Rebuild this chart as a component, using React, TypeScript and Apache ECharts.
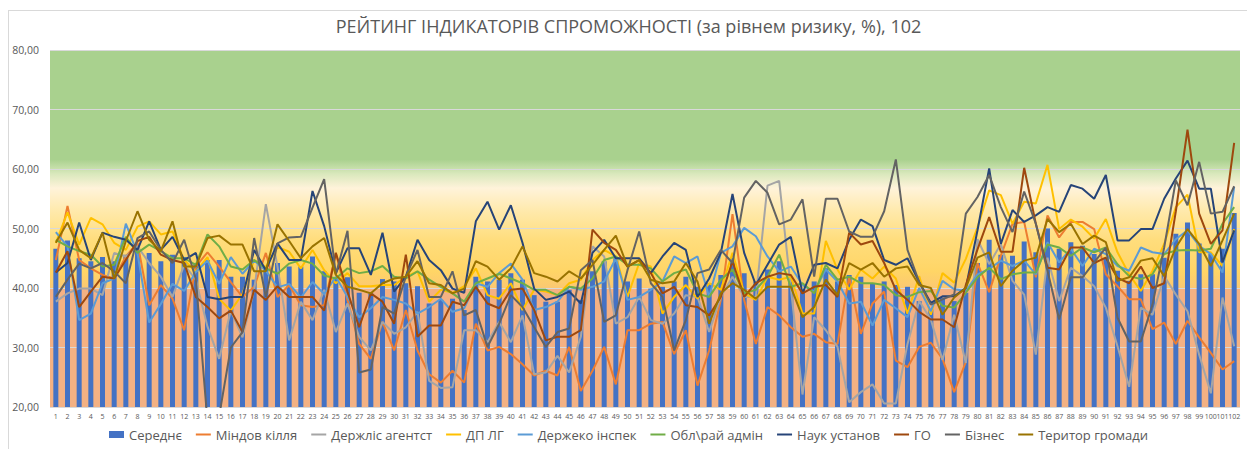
import React, { useEffect, useRef } from "react";
import * as echarts from "echarts";

const categories: string[] = Array.from({ length: 102 }, (_, i) => String(i + 1));

const seredne = [
  46.6, 48.0, 45.0, 44.5, 45.2, 44.5, 45.6, 46.2, 45.9, 44.5, 45.6, 45.2, 44.2, 44.7, 44.7, 41.9, 41.9, 41.4, 43.3, 44.2, 43.6, 43.6, 45.3, 42.8, 41.6,
  41.8, 39.2, 39.1, 41.5, 41.1, 40.8, 40.3, 37.4, 38.0, 38.2, 36.3, 41.9, 41.1, 41.4, 42.5, 41.4, 38.8, 37.7, 37.7, 39.7, 38.0, 42.8, 44.5, 45.0, 41.1,
  41.6, 39.9, 40.2, 41.1, 41.9, 40.2, 40.8, 42.2, 45.0, 42.5, 41.1, 43.1, 44.5, 41.1, 39.7, 41.1, 43.3, 41.1, 42.2, 41.9, 40.8, 41.1, 40.5, 40.2, 37.8,
  36.4, 38.4, 37.8, 39.2, 44.2, 48.1, 45.6, 45.4, 47.8, 46.0, 50.0, 46.6, 47.7, 47.1, 45.7, 45.1, 42.9, 41.2, 42.3, 42.3, 45.1, 49.1, 51.0, 47.5, 45.7, 46.6, 52.6,
];

const mindovkillia = [
  44.7, 53.8, 44.7, 43.3, 42.2, 41.6, 45.3, 47.6, 37.1, 40.5, 38.2, 32.9, 43.6, 46.0, 43.6, 41.0, 38.5, 40.2, 45.9, 38.5, 40.5, 37.1, 36.8, 37.1, 45.9,
  38.0, 30.6, 28.1, 34.3, 29.5, 36.3, 29.5, 25.5, 24.1, 26.1, 24.1, 34.0, 29.5, 30.1, 28.9, 27.2, 25.3, 26.1, 25.3, 30.1, 22.7, 26.1, 30.1, 23.8, 32.9,
  32.9, 34.0, 34.3, 28.9, 32.9, 23.6, 29.5, 38.0, 52.4, 38.0, 30.6, 36.8, 35.4, 33.4, 31.8, 32.3, 30.9, 30.6, 41.9, 32.3, 37.4, 39.4, 27.8, 26.7, 30.1,
  30.8, 28.1, 22.5, 27.6, 44.2, 39.3, 45.4, 50.8, 51.1, 41.8, 52.2, 48.5, 51.1, 51.1, 49.9, 42.3, 40.3, 38.1, 38.1, 33.1, 34.2, 30.6, 34.5, 31.7, 29.1, 26.3, 27.7,
];

const derzhlis = [
  37.7, 39.1, 39.9, 39.9, 38.8, 45.9, 45.3, 47.0, 44.2, 41.9, 38.5, 43.9, 41.4, 33.5, 28.1, 36.2, 31.7, 39.7, 54.1, 43.6, 31.2, 37.7, 34.6, 39.7, 32.6,
  37.4, 31.8, 29.5, 34.3, 32.3, 33.4, 36.0, 24.4, 23.2, 23.3, 32.9, 32.9, 30.9, 34.3, 30.9, 35.4, 25.5, 25.8, 28.6, 25.8, 31.8, 47.0, 45.3, 34.0, 35.1,
  38.5, 34.6, 34.0, 35.7, 38.8, 38.5, 32.6, 38.5, 41.9, 38.5, 38.5, 57.2, 58.0, 40.0, 22.1, 35.1, 32.9, 30.1, 20.8, 22.5, 23.8, 20.6, 20.6, 30.6, 37.8,
  34.7, 27.9, 35.5, 27.4, 48.2, 44.0, 47.4, 41.2, 38.9, 28.8, 45.1, 37.8, 43.4, 42.0, 40.3, 36.7, 30.2, 23.4, 36.7, 35.5, 42.0, 38.9, 36.1, 28.8, 22.3, 38.4, 30.2,
];

const dplg = [
  47.6, 52.7, 47.3, 51.8, 50.7, 47.6, 46.4, 50.3, 51.2, 49.0, 49.5, 44.7, 42.7, 45.2, 38.2, 36.2, 39.0, 44.7, 43.5, 46.9, 46.1, 43.3, 46.4, 43.0, 40.8,
  42.5, 40.3, 40.3, 40.5, 40.5, 41.9, 42.8, 37.7, 39.7, 39.2, 40.3, 43.3, 38.8, 38.2, 40.8, 36.3, 39.7, 39.4, 38.8, 40.8, 41.4, 44.7, 46.4, 45.3, 38.5,
  44.2, 43.6, 35.7, 38.5, 40.5, 38.2, 40.8, 39.7, 45.9, 39.1, 38.0, 41.9, 41.4, 41.9, 35.7, 35.7, 47.9, 43.1, 39.7, 43.1, 41.6, 43.6, 41.6, 35.7, 42.0,
  35.5, 42.5, 40.9, 44.9, 50.2, 56.4, 55.6, 50.8, 54.5, 54.2, 60.7, 49.9, 51.5, 50.3, 48.3, 51.6, 46.0, 42.3, 39.5, 42.9, 47.4, 53.6, 55.7, 46.0, 46.0, 43.7, 49.9,
];

const derzheko = [
  49.4, 47.0, 34.6, 35.7, 40.8, 41.6, 50.8, 45.8, 34.2, 37.3, 40.7, 39.5, 42.7, 44.6, 40.7, 45.2, 42.4, 44.6, 42.9, 40.1, 40.7, 38.4, 41.0, 39.0, 41.9,
  38.5, 35.1, 36.6, 38.5, 38.0, 37.4, 35.7, 36.8, 38.2, 36.0, 36.6, 40.8, 40.2, 42.5, 44.1, 41.4, 36.3, 36.8, 37.7, 40.2, 39.7, 40.2, 41.1, 45.0, 38.0,
  38.5, 39.7, 41.1, 45.3, 44.2, 45.3, 38.5, 45.9, 47.0, 50.1, 48.7, 45.3, 42.8, 43.6, 40.5, 39.4, 43.1, 41.1, 37.4, 37.7, 33.7, 38.0, 36.6, 35.1, 40.0,
  36.1, 41.2, 39.8, 39.5, 42.3, 43.2, 44.6, 43.7, 44.6, 42.3, 47.7, 44.3, 46.6, 43.7, 46.6, 45.7, 43.7, 42.9, 46.8, 46.0, 45.7, 48.2, 49.7, 47.1, 45.7, 42.6, 57.0,
];

const oblrai = [
  48.1, 47.0, 46.2, 45.6, 43.6, 43.9, 48.6, 45.9, 47.3, 46.2, 45.0, 45.0, 43.9, 49.0, 47.0, 43.6, 43.1, 44.7, 43.3, 42.4, 44.1, 44.7, 44.1, 42.1, 41.6,
  43.3, 42.5, 42.8, 43.7, 41.9, 41.6, 42.8, 41.4, 40.2, 39.1, 37.7, 40.8, 41.6, 42.4, 41.6, 40.8, 39.7, 39.7, 38.8, 40.2, 39.9, 41.6, 44.7, 45.3, 43.9,
  43.9, 43.3, 41.1, 42.5, 43.1, 39.1, 38.5, 41.4, 43.1, 39.1, 39.7, 41.9, 45.6, 40.2, 40.8, 39.1, 43.9, 41.4, 41.9, 40.8, 40.8, 40.5, 38.8, 38.5, 39.3,
  39.5, 37.0, 36.7, 39.2, 41.8, 43.4, 41.5, 42.3, 42.6, 42.6, 47.3, 46.8, 45.4, 46.8, 46.0, 46.8, 44.0, 42.0, 41.5, 42.3, 45.7, 46.3, 46.4, 46.3, 46.6, 50.8, 53.6,
];

const naukustanov = [
  42.6, 44.2, 51.0, 44.7, 49.3, 48.6, 48.1, 46.4, 51.2, 46.4, 48.6, 44.7, 45.9, 38.5, 38.1, 38.5, 38.5, 46.4, 43.0, 47.5, 44.7, 44.7, 56.3, 50.4, 42.5,
  46.7, 46.7, 42.2, 49.3, 39.4, 41.9, 48.1, 44.7, 43.0, 39.9, 39.2, 51.2, 54.5, 49.8, 53.9, 47.6, 39.9, 38.0, 38.5, 39.4, 37.4, 45.9, 48.1, 45.0, 45.0,
  45.0, 42.5, 45.3, 47.6, 46.4, 38.5, 41.6, 45.9, 55.8, 45.9, 40.5, 43.9, 47.3, 48.6, 39.1, 43.9, 44.2, 43.3, 48.1, 51.5, 50.4, 44.7, 43.9, 45.0, 41.0,
  37.5, 38.6, 38.6, 40.0, 49.7, 60.1, 47.4, 53.1, 51.1, 52.2, 53.6, 52.8, 57.3, 56.7, 55.0, 59.0, 48.0, 48.0, 49.9, 49.9, 55.0, 58.4, 61.4, 56.7, 56.7, 44.3, 49.7,
];

const go = [
  42.6, 46.2, 36.8, 39.4, 41.9, 41.6, 44.7, 47.9, 48.6, 45.6, 44.7, 44.2, 38.5, 36.8, 34.9, 36.2, 32.6, 39.7, 38.0, 40.3, 38.5, 38.5, 38.5, 36.2, 45.9,
  39.4, 33.4, 39.1, 37.7, 34.0, 45.6, 31.8, 33.7, 33.7, 37.7, 37.1, 40.2, 37.4, 36.6, 39.7, 39.9, 36.3, 31.2, 31.8, 31.8, 32.9, 49.8, 47.6, 46.4, 43.6,
  44.7, 42.5, 39.1, 40.2, 37.1, 36.8, 35.4, 38.5, 44.5, 38.5, 40.8, 41.9, 42.5, 42.2, 39.1, 40.2, 40.5, 38.5, 49.3, 47.3, 47.9, 44.2, 39.7, 38.0, 36.0,
  34.7, 34.7, 33.4, 40.5, 46.5, 51.9, 46.1, 46.1, 60.2, 50.8, 43.4, 43.1, 46.8, 46.8, 44.2, 45.1, 41.7, 40.8, 43.6, 40.0, 40.8, 52.9, 66.6, 52.5, 47.4, 49.7, 64.4,
];

const biznes = [
  38.5, 41.4, 44.1, 43.3, 44.2, 42.8, 40.8, 48.4, 49.5, 46.4, 44.2, 48.1, 41.5, 17.5, 18.5, 30.0, 32.6, 48.4, 38.5, 47.5, 48.5, 48.6, 53.5, 58.3, 42.3,
  49.6, 25.8, 26.3, 36.8, 35.7, 41.9, 46.4, 38.5, 38.5, 42.8, 35.4, 36.3, 30.1, 34.0, 38.8, 36.8, 33.4, 30.1, 32.6, 33.2, 43.0, 44.7, 34.3, 35.4, 43.0,
  49.5, 40.8, 38.5, 29.5, 34.6, 42.5, 43.1, 46.4, 44.2, 55.2, 58.0, 56.0, 50.7, 51.5, 54.9, 41.9, 55.0, 55.0, 49.5, 48.6, 48.6, 52.9, 61.6, 46.4, 41.0,
  37.2, 38.1, 38.9, 52.5, 55.3, 59.0, 53.6, 49.4, 56.2, 50.8, 42.9, 34.7, 41.8, 41.8, 44.3, 46.8, 35.0, 31.0, 31.0, 37.2, 46.8, 58.1, 53.9, 61.2, 52.5, 52.8, 57.1,
];

const terytor = [
  47.6, 51.0, 46.4, 45.0, 49.3, 41.6, 47.9, 52.9, 48.1, 46.2, 51.2, 43.6, 43.6, 48.4, 48.8, 47.3, 47.3, 42.8, 42.8, 50.7, 47.9, 45.0, 47.0, 48.4, 42.2,
  40.2, 39.7, 39.1, 40.8, 41.6, 41.9, 44.5, 40.8, 40.5, 39.1, 39.9, 44.5, 43.6, 41.4, 43.3, 47.0, 42.5, 41.9, 41.1, 42.8, 41.6, 43.9, 46.4, 48.8, 43.6,
  44.7, 41.4, 40.8, 41.1, 44.2, 41.1, 34.0, 39.1, 40.8, 39.7, 38.2, 40.2, 40.2, 40.2, 35.1, 36.8, 41.4, 38.8, 44.2, 43.1, 44.2, 41.9, 43.3, 43.6, 40.5,
  40.0, 35.5, 38.4, 40.0, 45.1, 46.0, 40.3, 42.9, 44.6, 45.1, 51.6, 49.4, 50.8, 47.4, 48.8, 47.7, 41.2, 41.8, 44.6, 45.0, 42.0, 46.8, 49.9, 47.4, 43.7, 48.0, 52.5,
];

const lineSeries: { name: string; data: number[]; color: string }[] = [
  { name: "Міндов кілля", data: mindovkillia, color: "#ED7D31" },
  { name: "Держліс агентст", data: derzhlis, color: "#A5A5A5" },
  { name: "ДП ЛГ", data: dplg, color: "#FFC000" },
  { name: "Держеко інспек", data: derzheko, color: "#5B9BD5" },
  { name: "Обл\\рай адмін", data: oblrai, color: "#70AD47" },
  { name: "Наук установ", data: naukustanov, color: "#264478" },
  { name: "ГО", data: go, color: "#9E480E" },
  { name: "Бізнес", data: biznes, color: "#636363" },
  { name: "Територ громади", data: terytor, color: "#997300" },
];

const FONT = "'Open Sans', 'Noto Sans', sans-serif";
const LINE_ICON = "path://M0,0H30V4H0Z";

export default function App() {
  const ref = useRef<HTMLDivElement>(null);

  useEffect(() => {
    if (!ref.current) return;
    const chart = echarts.init(ref.current, undefined, { renderer: "svg" });
    const topGradient = new echarts.graphic.LinearGradient(0, 0, 0, 1, [
      { offset: 0, color: "#A9D18E" },
      { offset: 0.46, color: "#A9D18E" },
      { offset: 0.52, color: "#D9E8BC" },
      { offset: 0.58, color: "#FFF3DA" },
      { offset: 0.68, color: "#FFE9AA" },
      { offset: 0.8, color: "#FFDD7C" },
      { offset: 0.93, color: "#FFD566" },
      { offset: 1, color: "#FBC872" },
    ]);
    chart.setOption({
      animation: false,
      textStyle: { fontFamily: FONT },
      title: {
        text: "РЕЙТИНГ ІНДИКАТОРІВ СПРОМОЖНОСТІ (за рівнем ризику, %), 102",
        left: "center",
        top: 6,
        padding: 0,
        textStyle: { color: "#595959", fontSize: 18, fontWeight: "normal", fontFamily: FONT },
      },
      legend: {
        top: 417,
        left: "center",
        padding: 0,
        itemGap: 14,
        itemWidth: 15,
        itemHeight: 7,
        symbolKeepAspect: true,
        textStyle: { color: "#595959", fontSize: 13, fontFamily: FONT },
        data: [
          { name: "Середнє", icon: "rect" },
          ...lineSeries.map((s) => ({ name: s.name, icon: LINE_ICON })),
        ],
      },
      grid: { left: 41, right: 8, top: 39, bottom: 42, containLabel: false },
      xAxis: {
        type: "category",
        data: categories,
        boundaryGap: true,
        axisLine: { show: false },
        axisTick: { show: false },
        axisLabel: { interval: 0, fontSize: 7, color: "#595959", margin: 6, fontFamily: FONT },
        splitLine: { show: false },
      },
      yAxis: {
        type: "value",
        min: 20,
        max: 80,
        interval: 10,
        z: 1.5,
        axisLine: { show: false },
        axisTick: { show: false },
        axisLabel: {
          fontSize: 10.5,
          color: "#595959",
          margin: 11,
          fontFamily: FONT,
          formatter: (v: number) => v.toFixed(2).replace(".", ","),
        },
        splitLine: { show: true, lineStyle: { color: "#D9D9D9", width: 1 } },
      },
      series: [
        {
          name: "Середнє",
          type: "bar",
          data: seredne,
          barWidth: 5,
          itemStyle: { color: "#4472C4" },
          markArea: {
            silent: true,
            z: 1,
            itemStyle: { borderWidth: 0 },
            data: [
              [{ yAxis: 80, itemStyle: { color: topGradient } }, { yAxis: 40 }],
              [{ yAxis: 40, itemStyle: { color: "#F4B183" } }, { yAxis: 20 }],
            ],
          },
        },
        ...lineSeries.map((s) => ({
          name: s.name,
          type: "line",
          data: s.data,
          symbol: "none",
          showSymbol: false,
          clip: true,
          lineStyle: { color: s.color, width: 2 },
          itemStyle: { color: s.color },
        })),
      ],
    });
    return () => chart.dispose();
  }, []);

  return (
    <div
      style={{
        marginTop: 2,
        width: 1239,
        borderTop: "1px solid #D9D9D9",
        borderLeft: "1px solid #D9D9D9",
        borderRight: "1px solid #D9D9D9",
      }}
    >
      <div ref={ref} style={{ width: 1239, height: 438 }} />
    </div>
  );
}
